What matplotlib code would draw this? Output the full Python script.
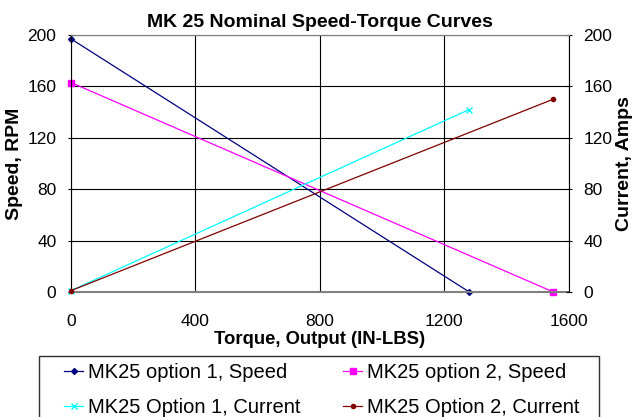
import matplotlib.pyplot as plt
from matplotlib.patches import Rectangle
from matplotlib.ticker import MultipleLocator

plt.rcParams['font.family'] = ['Liberation Sans', 'DejaVu Sans']

# torque (in-lbs)
torque_opt1 = [0, 1280]
torque_opt2 = [0, 1550]
speed_opt1 = [197, 0]
speed_opt2 = [163, 0]
current_opt1 = [1, 142]
current_opt2 = [1, 150]

fig = plt.figure(figsize=(6.34, 4.17), dpi=100)
ax = fig.add_axes([0.112, 0.300, 0.785, 0.616])
ax2 = ax.twinx()

ax.set_xlim(0, 1600)
ax.set_ylim(0, 200)
ax2.set_ylim(0, 200)
ax.xaxis.set_major_locator(MultipleLocator(400))
ax.yaxis.set_major_locator(MultipleLocator(40))
ax2.yaxis.set_major_locator(MultipleLocator(40))

ax.grid(True, color='black', lw=0.8)
ax.set_axisbelow(True)
ax.spines['top'].set_color('#808080')
ax2.spines['top'].set_color('#808080')
ax.spines['bottom'].set_color('#808080')
ax.spines['bottom'].set_linewidth(1.5)
ax2.spines['bottom'].set_visible(False)
ax.spines['right'].set_visible(False)
ax2.spines['left'].set_visible(False)

l1, = ax.plot(torque_opt1, speed_opt1, color='#000080', lw=0.9, marker='D', ms=3,
              label='MK25 option 1, Speed', clip_on=False)
l2, = ax.plot(torque_opt2, speed_opt2, color='#ff00ff', lw=0.9, marker='s', ms=4,
              label='MK25 option 2, Speed', clip_on=False)
l3, = ax2.plot(torque_opt1, current_opt1, color='#00ffff', lw=0.9, marker='x', ms=4,
               label='MK25 Option 1, Current', clip_on=False)
l4, = ax2.plot(torque_opt2, current_opt2, color='#800000', lw=0.9, marker='o', ms=3,
               label='MK25 Option 2, Current', clip_on=False)

ax.tick_params(labelsize=12.5, length=5, direction='inout', pad=8)
ax2.tick_params(labelsize=12.5, length=5, direction='inout', pad=8)
ax.tick_params(axis='x', length=0, pad=16)

ax.set_title('MK 25 Nominal Speed-Torque Curves', fontsize=14, fontweight='bold', pad=6)
ax.set_xlabel('Torque, Output (IN-LBS)', fontsize=13.3, fontweight='bold', labelpad=1)
ax.set_ylabel('Speed, RPM', fontsize=14, fontweight='bold', labelpad=3)
ax2.set_ylabel('Current, Amps', fontsize=14, fontweight='bold', labelpad=3)

# legend frame runs off the bottom of the image
fig.patches.append(Rectangle((0.0615, -0.1), 0.883, 0.2463, transform=fig.transFigure,
                             fill=False, edgecolor='#303030', lw=1))
leg = fig.legend(handles=[l1, l3, l2, l4], ncol=2, loc='upper left',
                 bbox_to_anchor=(0.101, 0.1295), bbox_transform=fig.transFigure,
                 fontsize=14.5, frameon=False,
                 handlelength=0.95, handletextpad=0.25, columnspacing=2.1,
                 borderpad=0, borderaxespad=0, labelspacing=0.8)

fig.savefig('out.png', dpi=100)
